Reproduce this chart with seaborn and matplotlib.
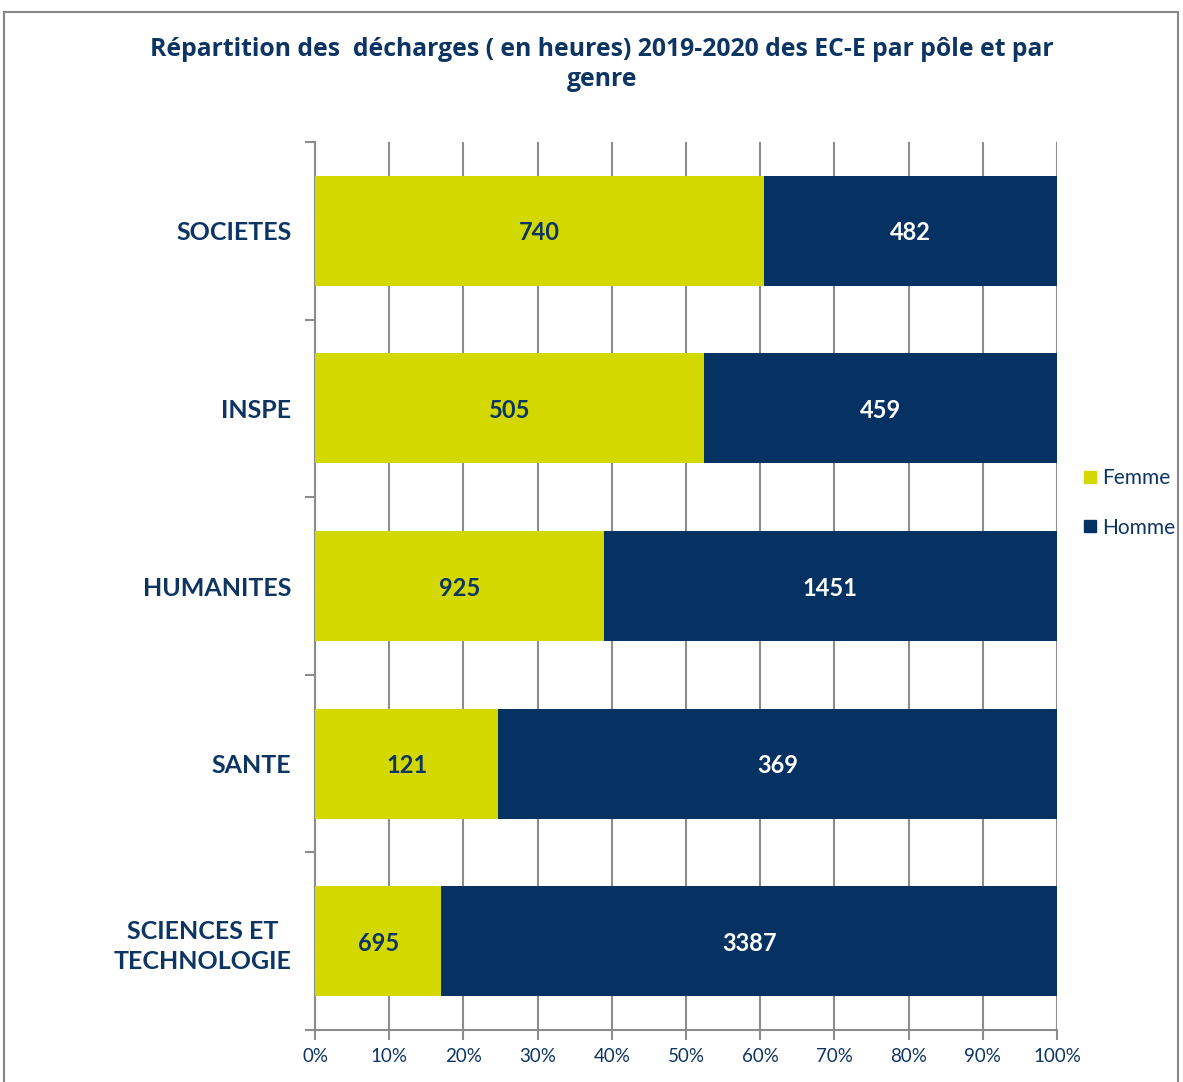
import matplotlib
matplotlib.use("Agg")
import matplotlib.pyplot as plt
import seaborn as sns
import pandas as pd
import numpy as np
from matplotlib.patches import Rectangle
from matplotlib.lines import Line2D

categories = ["SOCIETES", "INSPE", "HUMANITES", "SANTE", "SCIENCES ET\nTECHNOLOGIE"]
femme = [740, 505, 925, 121, 695]
homme = [482, 459, 1451, 369, 3387]
xticklabels = ["0%", "10%", "20%", "30%", "40%", "50%", "60%", "70%", "80%", "90%", "100%"]

sns.set_theme(style="white")
plt.rcParams["font.family"] = ["Lato", "DejaVu Sans"]

NAVY = "#063263"
YELLOW = "#D3D800"
TXT = "#0D3563"
GRID = "#8C8C8C"

tot = np.array(femme) + np.array(homme)
df = pd.DataFrame({
    "pole": categories,
    "femme_pct": np.array(femme) / tot,
    "total_pct": tot / tot,
})

fig = plt.figure(figsize=(11.83, 10.82), dpi=100)
ax = fig.add_axes([315/1183, 1-1030/1082, (1057-315)/1183, (1030-142)/1082])

sns.barplot(data=df, y="pole", x="total_pct", color=NAVY, orient="h", width=0.62,
            ax=ax, saturation=1, zorder=3)
sns.barplot(data=df, y="pole", x="femme_pct", color=YELLOW, orient="h", width=0.62,
            ax=ax, saturation=1, zorder=3)
for p in ax.patches:
    p.set_edgecolor("none")

for i in range(len(categories)):
    fp = df["femme_pct"][i]
    ax.text(fp / 2, i, str(femme[i]), ha="center", va="center_baseline", color=TXT,
            fontsize=17, fontweight="bold", zorder=4)
    ax.text(fp + (1 - fp) / 2, i, str(homme[i]), ha="center", va="center_baseline", color="white",
            fontsize=17, fontweight="bold", zorder=4)

ax.set_xlim(0, 1)
ax.set_ylim(len(categories) - 0.5, -0.5)
ax.set_xticks(np.linspace(0, 1, 11))
ax.set_xticklabels(xticklabels, fontsize=13.5, color=TXT)
ax.set_yticks(range(len(categories)))
ax.set_yticklabels(categories, fontsize=18, fontweight="bold", color=TXT,
                   linespacing=1.38, multialignment="center")
ax.set_yticks(np.arange(-0.5, len(categories), 1), minor=True)
ax.tick_params(axis="y", which="major", length=0, pad=17)
ax.tick_params(axis="y", which="minor", length=7, width=1.5, color=GRID, left=True)
ax.tick_params(axis="x", which="major", length=7, width=1.5, color=GRID, bottom=True, pad=6)
ax.set_xlabel("")
ax.set_ylabel("")
ax.xaxis.grid(True, color=GRID, linewidth=1.5, zorder=0)
ax.yaxis.grid(False)
ax.set_axisbelow(True)
for s in ["top", "right"]:
    ax.spines[s].set_visible(False)
for s in ["left", "bottom"]:
    ax.spines[s].set_color(GRID)
    ax.spines[s].set_linewidth(1.5)

fig.text(602/1183, 1-49/1082, "Répartition des  décharges ( en heures) 2019-2020 des EC-E par pôle et par",
         ha="center", va="center", fontsize=17.8, fontweight="bold", color=TXT, family="Open Sans")
fig.text(602/1183, 1-79/1082, "genre",
         ha="center", va="center", fontsize=17.8, fontweight="bold", color=TXT, family="Open Sans")

handles = [Line2D([0], [0], marker="s", linestyle="none", markersize=8.5, markerfacecolor=YELLOW, markeredgecolor=YELLOW),
           Line2D([0], [0], marker="s", linestyle="none", markersize=8.5, markerfacecolor=NAVY, markeredgecolor=NAVY)]
fig.legend(handles, ["Femme", "Homme"], loc="center left", bbox_to_anchor=(1082/1183, 1-503/1082),
           frameon=False, fontsize=15, labelcolor=TXT, handletextpad=0.15, labelspacing=1.4,
           handlelength=0.8, borderpad=0, borderaxespad=0)

fig.patches.append(Rectangle((4/1183, -0.05), (1178-4)/1183, 1.05 - 12/1082, transform=fig.transFigure,
                             fill=False, edgecolor="#888888", linewidth=1.5))

fig.savefig("out.png", dpi=100)
